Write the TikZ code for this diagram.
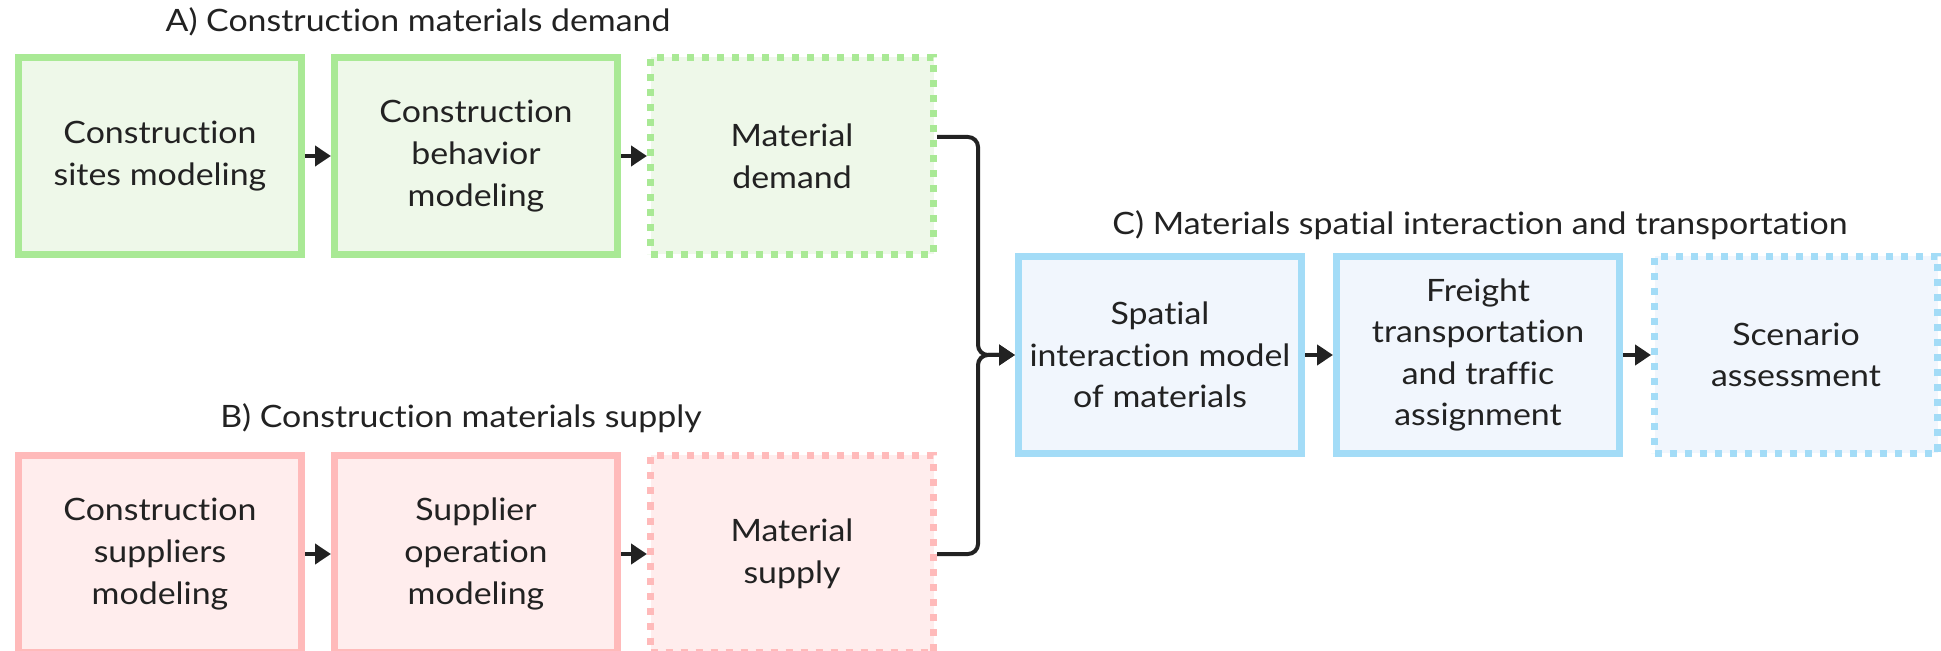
\documentclass[tikz,border=0pt]{standalone}
\usepackage{fontspec}
\setmainfont{Lato}[Ligatures={NoCommon,NoRequired,NoContextual}, FakeStretch=1.1]
\usetikzlibrary{positioning,arrows.meta}

\definecolor{demline}{HTML}{A9E995}
\definecolor{demfill}{HTML}{EEF8E9}
\definecolor{supline}{HTML}{FFBABA}
\definecolor{supfill}{HTML}{FFEDED}
\definecolor{trline}{HTML}{A3DCF7}
\definecolor{trfill}{HTML}{F1F6FD}
\definecolor{ink}{HTML}{222222}

\begin{document}
\begin{tikzpicture}[
        node distance=13pt,
        box/.style={
            rectangle,
            draw,
            line width=3.5pt,
            minimum width=141.5pt,
            minimum height=98.5pt,
            inner sep=0pt,
            align=center,
            text=ink,
            font=\fontsize{15.4}{20.8}\selectfont
        },
        outbox/.style={
            box,
            dash pattern=on 3.5pt off 4pt
        },
        demand/.style={draw=demline, fill=demfill},
        supply/.style={draw=supline, fill=supfill},
        transport/.style={draw=trline, fill=trfill},
        title/.style={
            text=ink,
            font=\fontsize{15.4}{19}\selectfont
        },
        arrow/.style={
            -{Triangle[length=8pt,width=10pt]},
            line width=2pt,
            draw=ink
        }
    ]

    \useasboundingbox (0,0) rectangle (970.5pt,-325.5pt);

    % Demand row
    \node[box, demand] (sites) at (80pt,-78pt) {Construction\\sites modeling};
    \node[box, demand, right=of sites] (behav) {Construction\\behavior\\modeling};
    \node[outbox, demand, right=of behav] (dem) {Material\\demand};

    % Supply row
    \node[box, supply, below=97pt of sites] (suppliers) {Construction\\suppliers\\modeling};
    \node[box, supply, right=of suppliers] (oper) {Supplier\\operation\\modeling};
    \node[outbox, supply, right=of oper] (sup) {Material\\supply};

    % Interaction and transportation row
    \node[box, transport] (spatial) at (580pt,-177.5pt) {Spatial\\interaction model\\of materials};
    \node[box, transport, right=14pt of spatial] (freight) {Freight\\transportation\\and traffic\\assignment};
    \node[outbox, transport, right=14pt of freight] (scen) {Scenario\\assessment};

    % Group titles
    \node[title] (titleA) at (209pt,-11pt) {A) Construction materials demand};
    \node[title] (titleB) at (230.5pt,-209pt) {B) Construction materials supply};
    \node[title] (titleC) at (740pt,-112.5pt) {C) Materials spatial interaction and transportation};

    % Connections within rows
    \draw[arrow] (sites) -- (behav);
    \draw[arrow] (behav) -- (dem);
    \draw[arrow] (suppliers) -- (oper);
    \draw[arrow] (oper) -- (sup);
    \draw[arrow] (spatial) -- (freight);
    \draw[arrow] (freight) -- (scen);

    % Demand and supply merge into the interaction model
    \coordinate (join) at ([xshift=-18.5pt]spatial.west);
    \draw[arrow, rounded corners=5pt] ([yshift=9.5pt]dem.east) -| (join) -- (spatial.west);
    \draw[arrow, rounded corners=5pt] (sup.east) -| (join) -- (spatial.west);

\end{tikzpicture}
\end{document}
